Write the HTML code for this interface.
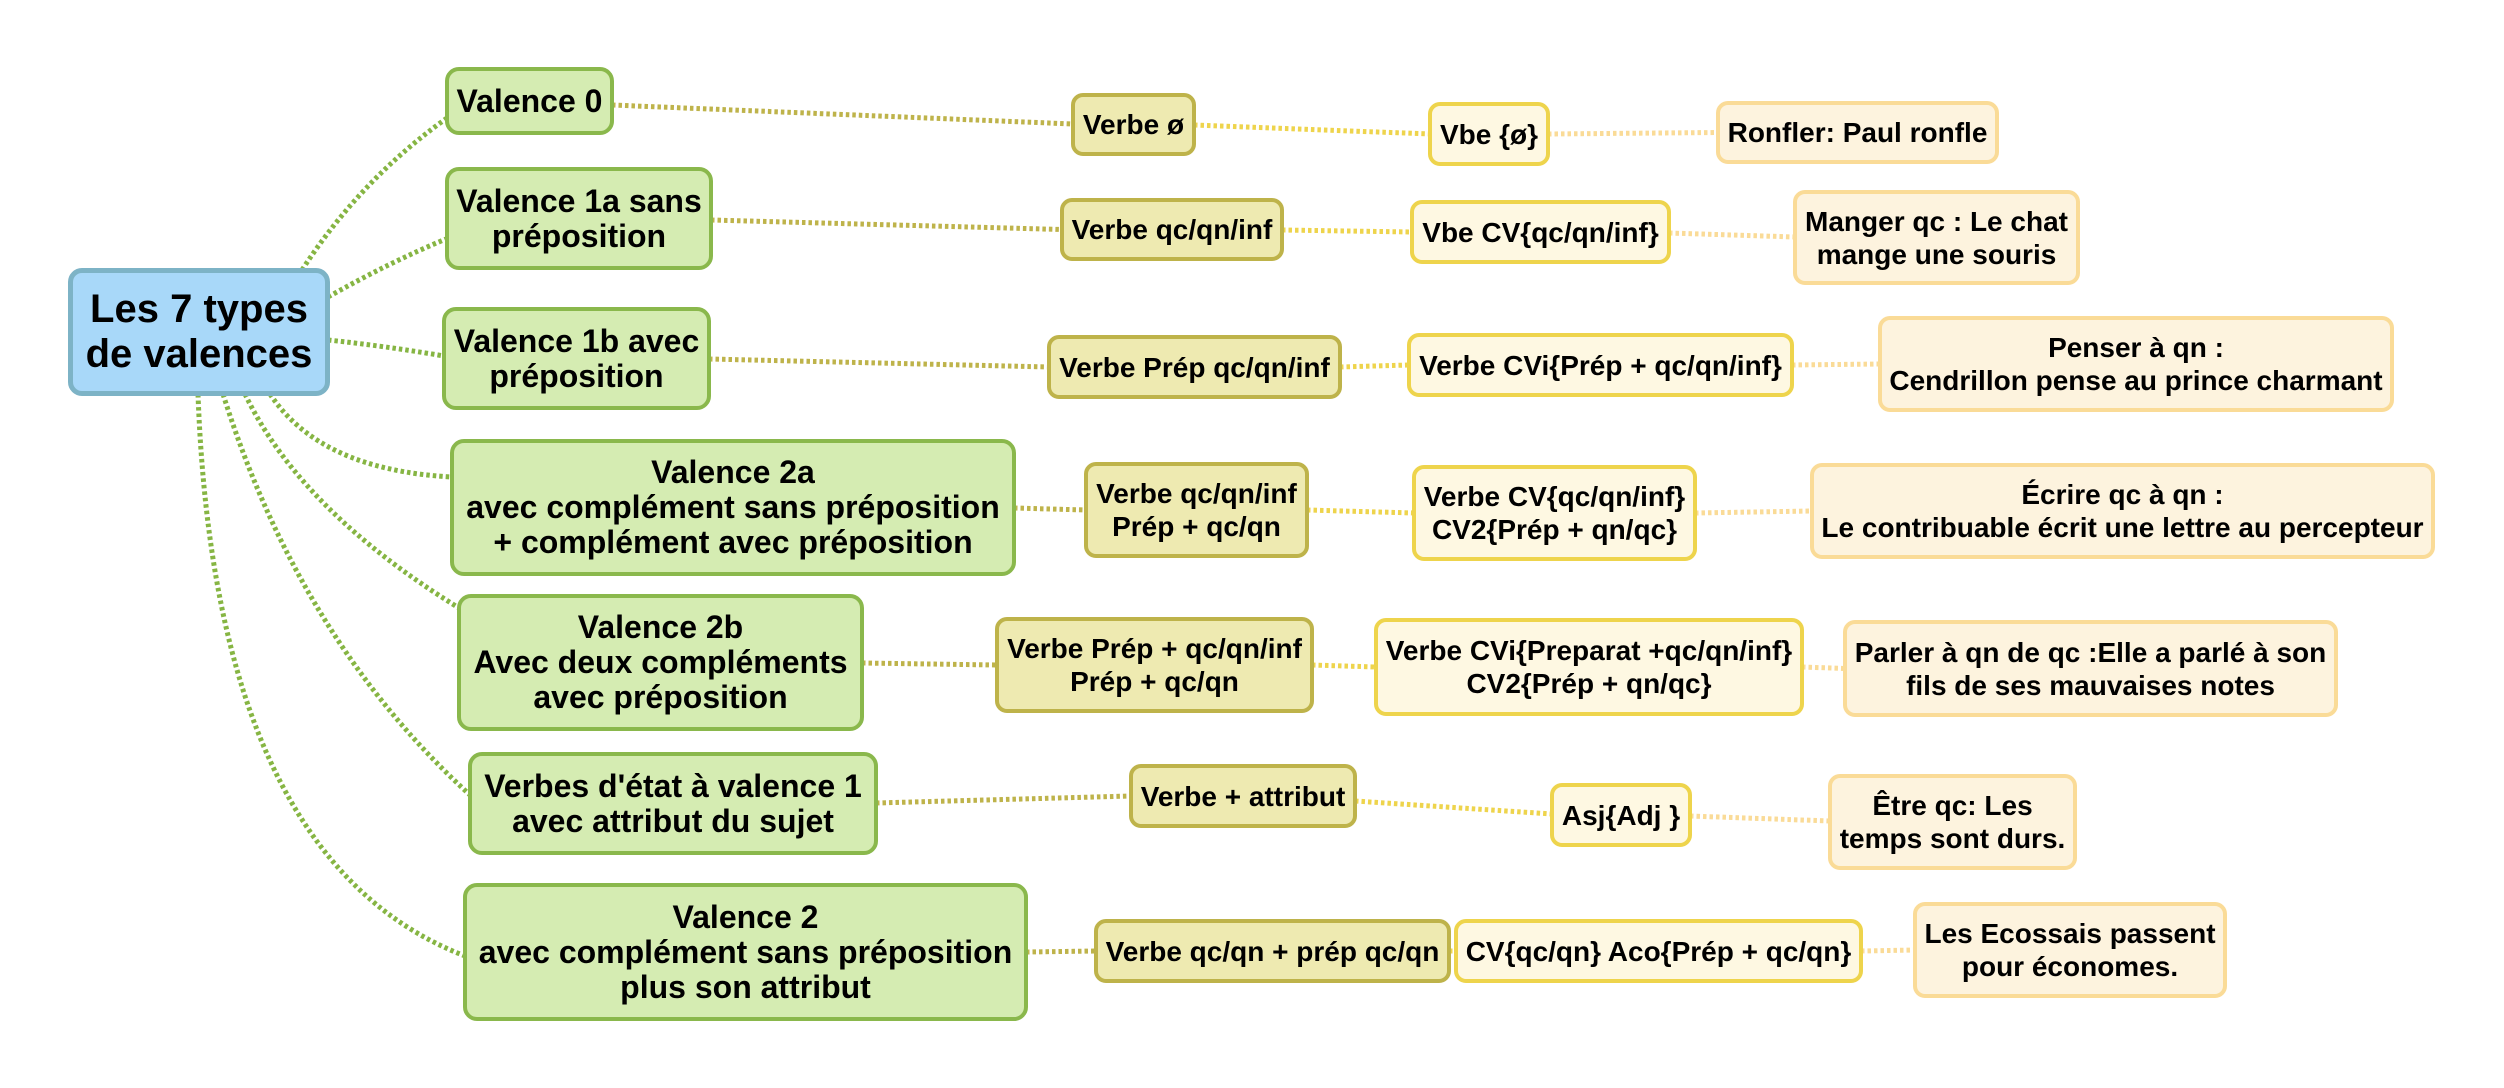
<!DOCTYPE html>
<html>
<head>
<meta charset="utf-8">
<style>
  html, body { margin:0; padding:0; background:#ffffff; }
  body { width:2504px; height:1088px; position:relative; overflow:hidden;
         font-family:"Liberation Sans", Arial, sans-serif; font-weight:bold; color:#000; }
  svg { position:absolute; left:0; top:0; }
  .b { position:absolute; box-sizing:border-box; display:flex; align-items:center; justify-content:center;
       text-align:center; white-space:nowrap; }
  .root { background:#A8D8F9; border:5px solid #7DB3C6; border-radius:14px; font-size:40px; line-height:45px; }
  .l1 { background:#D5ECB2; border:4px solid #8AB84C; border-radius:14px; font-size:32px; line-height:35px; }
  .l2 { background:#EEEAB1; border:4px solid #BEB34A; border-radius:12px; font-size:28px; line-height:33px; }
  .l3 { background:#FEF8E2; border:4px solid #EED44C; border-radius:12px; font-size:28px; line-height:33px; }
  .l4 { background:#FDF3DE; border:4px solid #FADB97; border-radius:12px; font-size:28px; line-height:33px; }
</style>
</head>
<body>
<svg width="2504" height="1088" viewBox="0 0 2504 1088">
  <g fill="none" stroke-width="5" stroke-dasharray="3.5 3">
    <g stroke="#86B543">
      <path d="M302,270 Q360,180 447,118"/>
      <path d="M328,297 Q390,262 446,239"/>
      <path d="M328,340 Q385,346 444,356"/>
      <path d="M270,394 Q320,470 452,477"/>
      <path d="M245,394 Q300,510 459,608"/>
      <path d="M223,394 Q300,640 470,795"/>
      <path d="M198,394 Q215,860 465,956"/>
    </g>
    <g stroke="#BEB34A">
      <path d="M612,105 L1073,124"/>
      <path d="M711,220 L1062,229.5"/>
      <path d="M709,359 L1049,367"/>
      <path d="M1014,508 L1086,510"/>
      <path d="M862,663 L997,665"/>
      <path d="M876,803 L1131,796"/>
      <path d="M1026,952 L1096,951"/>
    </g>
    <g stroke="#EED44C">
      <path d="M1194,125 L1430,134"/>
      <path d="M1282,230 L1412,232"/>
      <path d="M1340,367 L1409,365"/>
      <path d="M1307,510 L1414,513"/>
      <path d="M1312,665 L1376,667"/>
      <path d="M1355,801 L1552,814"/>
      <path d="M1449,951 L1456,951"/>
    </g>
    <g stroke="#FADB97">
      <path d="M1548,134 L1718,132.5"/>
      <path d="M1669,233 L1795,237"/>
      <path d="M1792,365 L1880,364"/>
      <path d="M1695,513 L1812,511"/>
      <path d="M1802,667 L1845,668.5"/>
      <path d="M1690,816 L1830,821"/>
      <path d="M1861,951 L1915,950"/>
    </g>
  </g>
</svg>

<!-- Root -->
<div class="b root" style="left:68px;top:268px;width:262px;height:128px;">Les 7 types<br>de valences</div>

<!-- Level 1 -->
<div class="b l1" style="left:445px;top:67px;width:169px;height:68px;">Valence 0</div>
<div class="b l1" style="left:445px;top:167px;width:268px;height:103px;">Valence 1a sans<br>préposition</div>
<div class="b l1" style="left:442px;top:307px;width:269px;height:103px;">Valence 1b avec<br>préposition</div>
<div class="b l1" style="left:450px;top:439px;width:566px;height:137px;">Valence 2a<br>avec complément sans préposition<br>+ complément avec préposition</div>
<div class="b l1" style="left:457px;top:594px;width:407px;height:137px;">Valence 2b<br>Avec deux compléments<br>avec préposition</div>
<div class="b l1" style="left:468px;top:752px;width:410px;height:103px;">Verbes d'état à valence 1<br>avec attribut du sujet</div>
<div class="b l1" style="left:463px;top:883px;width:565px;height:138px;">Valence 2<br>avec complément sans préposition<br>plus son attribut</div>

<!-- Level 2 -->
<div class="b l2" style="left:1071px;top:93px;width:125px;height:63px;">Verbe ø</div>
<div class="b l2" style="left:1060px;top:198px;width:224px;height:63px;">Verbe qc/qn/inf</div>
<div class="b l2" style="left:1047px;top:335px;width:295px;height:64px;">Verbe Prép qc/qn/inf</div>
<div class="b l2" style="left:1084px;top:462px;width:225px;height:96px;">Verbe qc/qn/inf<br>Prép + qc/qn</div>
<div class="b l2" style="left:995px;top:617px;width:319px;height:96px;">Verbe Prép + qc/qn/inf<br>Prép + qc/qn</div>
<div class="b l2" style="left:1129px;top:764px;width:228px;height:64px;">Verbe + attribut</div>
<div class="b l2" style="left:1094px;top:919px;width:357px;height:64px;">Verbe qc/qn + prép qc/qn</div>

<!-- Level 3 -->
<div class="b l3" style="left:1428px;top:102px;width:122px;height:64px;">Vbe {ø}</div>
<div class="b l3" style="left:1410px;top:200px;width:261px;height:64px;">Vbe CV{qc/qn/inf}</div>
<div class="b l3" style="left:1407px;top:333px;width:387px;height:64px;">Verbe CVi{Prép + qc/qn/inf}</div>
<div class="b l3" style="left:1412px;top:465px;width:285px;height:96px;">Verbe CV{qc/qn/inf}<br>CV2{Prép + qn/qc}</div>
<div class="b l3" style="left:1374px;top:618px;width:430px;height:98px;">Verbe CVi{Preparat +qc/qn/inf}<br>CV2{Prép + qn/qc}</div>
<div class="b l3" style="left:1550px;top:783px;width:142px;height:64px;">Asj{Adj }</div>
<div class="b l3" style="left:1454px;top:919px;width:409px;height:64px;">CV{qc/qn} Aco{Prép + qc/qn}</div>

<!-- Level 4 -->
<div class="b l4" style="left:1716px;top:101px;width:283px;height:63px;">Ronfler: Paul ronfle</div>
<div class="b l4" style="left:1793px;top:190px;width:287px;height:95px;">Manger qc : Le chat<br>mange une souris</div>
<div class="b l4" style="left:1878px;top:316px;width:516px;height:96px;">Penser à qn :<br>Cendrillon pense au prince charmant</div>
<div class="b l4" style="left:1810px;top:463px;width:625px;height:96px;">Écrire qc à qn :<br>Le contribuable écrit une lettre au percepteur</div>
<div class="b l4" style="left:1843px;top:620px;width:495px;height:97px;">Parler à qn de qc :Elle a parlé à son<br>fils de ses mauvaises notes</div>
<div class="b l4" style="left:1828px;top:774px;width:249px;height:96px;">Être qc: Les<br>temps sont durs.</div>
<div class="b l4" style="left:1913px;top:902px;width:314px;height:96px;">Les Ecossais passent<br>pour économes.</div>
</body>
</html>
